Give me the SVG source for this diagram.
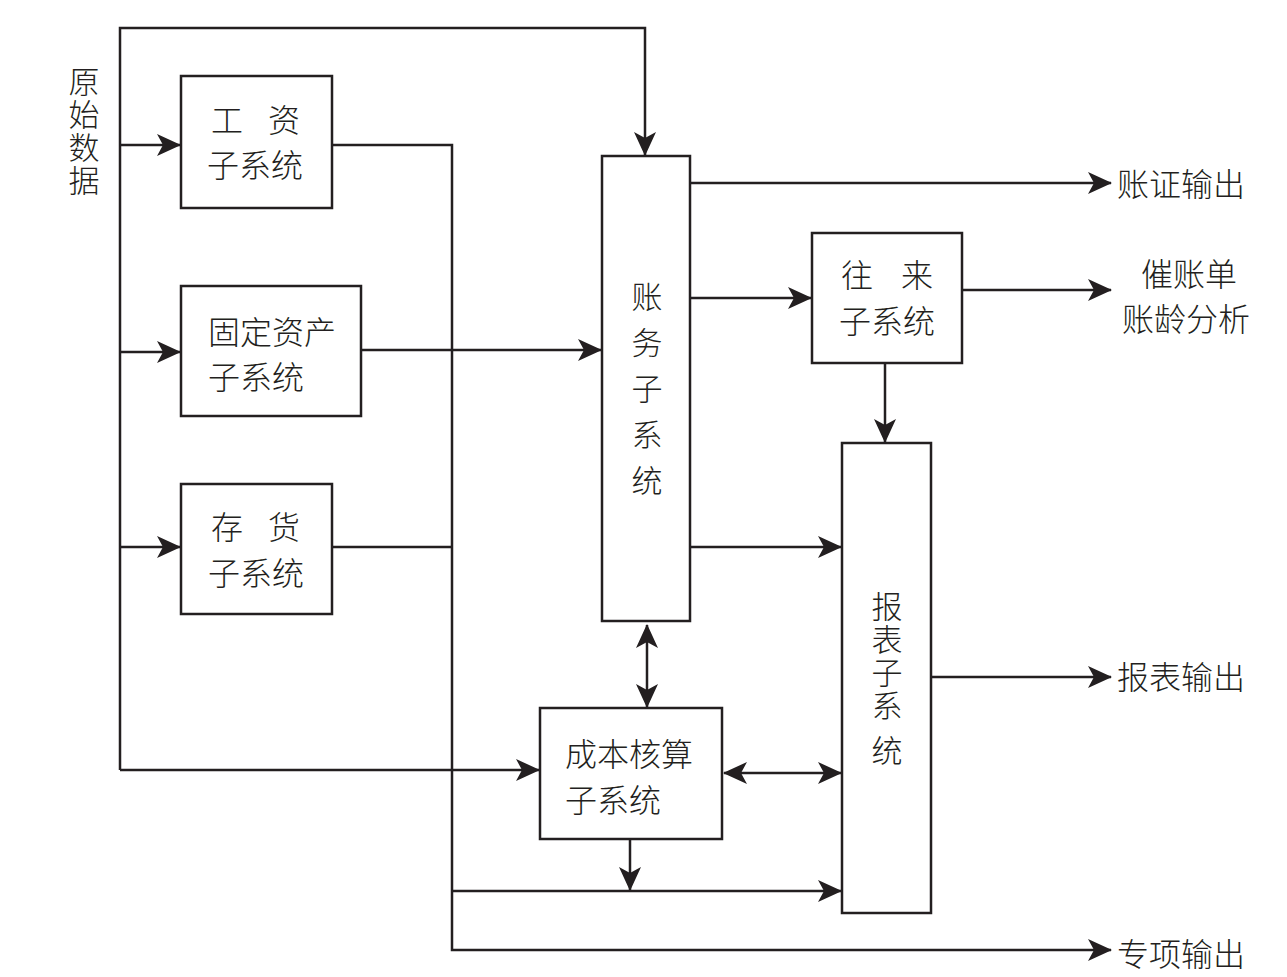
<svg xmlns="http://www.w3.org/2000/svg" width="1287" height="977" viewBox="0 0 1287 977">
<style>
  .box{fill:#fff;stroke:#231f20;stroke-width:2.5}
  .ln{fill:none;stroke:#231f20;stroke-width:2.5}
  text{font-family:"Noto Sans CJK SC","Noto Sans",sans-serif;font-size:32px;fill:#231f20;font-weight:300}
  .m{text-anchor:middle}
  .v{writing-mode:vertical-rl;font-size:31px}
</style>
<defs>
  <marker id="ah" markerUnits="userSpaceOnUse" markerWidth="24" markerHeight="24" viewBox="0 0 24 24" refX="23" refY="12" orient="auto-start-reverse">
    <path d="M0,1 L24,12 L0,23 L6,12 Z" fill="#231f20"/>
  </marker>
</defs>
<rect width="1287" height="977" fill="#fff"/>
<g id="connectors">
  <path class="ln" d="M120,770 V28 H645 V155" marker-end="url(#ah)"/>
  <path class="ln" d="M120,145 H180" marker-end="url(#ah)"/>
  <path class="ln" d="M120,352 H180" marker-end="url(#ah)"/>
  <path class="ln" d="M120,547 H180" marker-end="url(#ah)"/>
  <path class="ln" d="M120,770 H539" marker-end="url(#ah)"/>
  <path class="ln" d="M332,145 H452 V950 H1111" marker-end="url(#ah)"/>
  <path class="ln" d="M332,547 H452"/>
  <path class="ln" d="M361,350 H601" marker-end="url(#ah)"/>
  <path class="ln" d="M452,891 H841" marker-end="url(#ah)"/>
  <path class="ln" d="M690,183 H1111" marker-end="url(#ah)"/>
  <path class="ln" d="M690,298 H811" marker-end="url(#ah)"/>
  <path class="ln" d="M962,290 H1111" marker-end="url(#ah)"/>
  <path class="ln" d="M885,363 V442" marker-end="url(#ah)"/>
  <path class="ln" d="M690,547 H841" marker-end="url(#ah)"/>
  <path class="ln" d="M931,677 H1111" marker-end="url(#ah)"/>
  <path class="ln" d="M647,625 V707" marker-start="url(#ah)" marker-end="url(#ah)"/>
  <path class="ln" d="M724,773 H841" marker-start="url(#ah)" marker-end="url(#ah)"/>
  <path class="ln" d="M630,839 V890" marker-end="url(#ah)"/>
</g>
<g id="input-label">
  <text class="v" x="84" y="66" letter-spacing="2">原始数据</text>
</g>
<g id="gongzi">
  <rect class="box" x="181" y="76" width="151" height="132"/>
  <text y="132"><tspan x="211">工</tspan><tspan x="268">资</tspan></text>
  <text x="207" y="177">子系统</text>
</g>
<g id="guding">
  <rect class="box" x="181" y="286" width="180" height="130"/>
  <text x="208" y="344">固定资产</text>
  <text x="208" y="389">子系统</text>
</g>
<g id="cunhuo">
  <rect class="box" x="181" y="484" width="151" height="130"/>
  <text y="539"><tspan x="211">存</tspan><tspan x="268">货</tspan></text>
  <text x="208" y="585">子系统</text>
</g>
<g id="zhangwu">
  <rect class="box" x="602" y="156" width="88" height="465"/>
  <text class="v" x="647" y="281" letter-spacing="15">账务子系统</text>
</g>
<g id="wanglai">
  <rect class="box" x="812" y="233" width="150" height="130"/>
  <text y="287"><tspan x="841">往</tspan><tspan x="901">来</tspan></text>
  <text x="839" y="333">子系统</text>
</g>
<g id="baobiao">
  <rect class="box" x="842" y="443" width="89" height="470"/>
  <text class="v" x="887" y="591" letter-spacing="2">报表子系</text>
  <text class="v" x="887" y="735">统</text>
</g>
<g id="chengben">
  <rect class="box" x="540" y="708" width="182" height="131"/>
  <text x="565" y="766">成本核算</text>
  <text x="565" y="812">子系统</text>
</g>
<g id="outputs">
  <text x="1117" y="196">账证输出</text>
  <text class="m" x="1189" y="286">催账单</text>
  <text x="1122" y="331">账龄分析</text>
  <text x="1117" y="689">报表输出</text>
  <text x="1117" y="966">专项输出</text>
</g>
</svg>
